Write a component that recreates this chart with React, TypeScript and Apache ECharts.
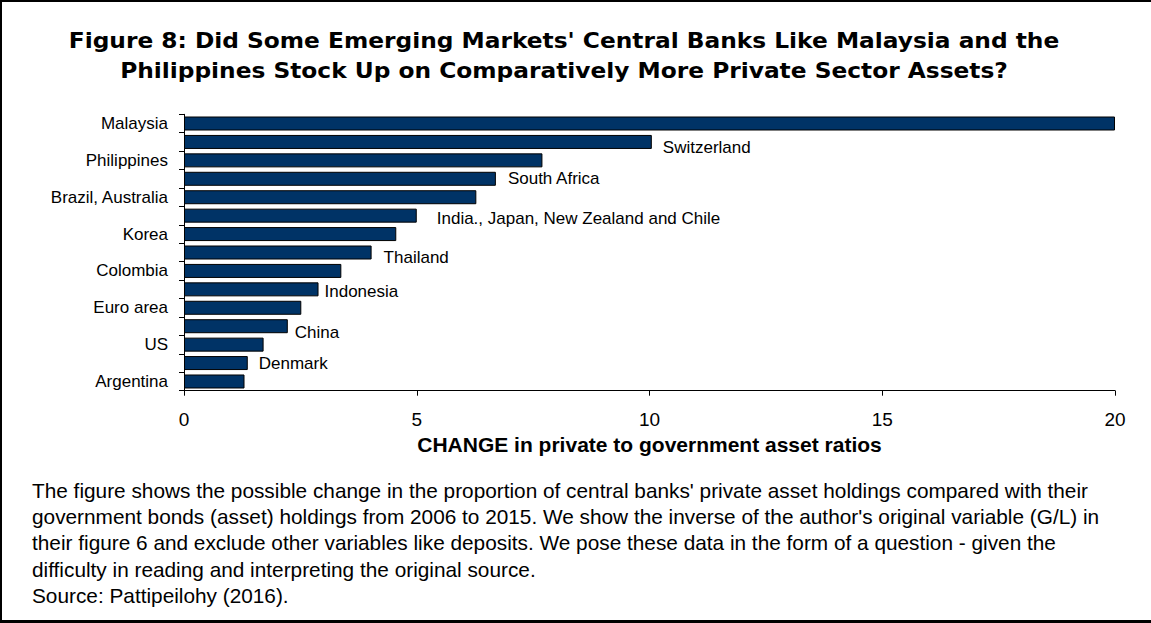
import React, { useEffect, useRef } from "react";
import * as echarts from "echarts";

// ---- data ----
const categories: string[] = [
  "Malaysia",
  "Switzerland",
  "Philippines",
  "South Africa",
  "Brazil, Australia",
  "India., Japan, New Zealand and Chile",
  "Korea",
  "Thailand",
  "Colombia",
  "Indonesia",
  "Euro area",
  "China",
  "US",
  "Denmark",
  "Argentina",
];
const values: number[] = [
  20.0, 10.05, 7.7, 6.7, 6.28, 5.0, 4.56, 4.03, 3.38, 2.89, 2.52, 2.23, 1.71, 1.37, 1.3,
];
const xMin = 0;
const xMax = 20;
const xStep = 5;
const axisTitle = "CHANGE in private to government asset ratios";
const titleLines: string[] = [
  "Figure 8: Did Some Emerging Markets' Central Banks Like Malaysia and the",
  "Philippines Stock Up on Comparatively More Private Sector Assets?",
];
const noteLines: string[] = [
  "The figure shows the possible change in the proportion of central banks' private asset holdings compared with their",
  "government bonds (asset) holdings from 2006 to 2015. We show the inverse of the author's original variable (G/L) in",
  "their figure 6 and exclude other variables like deposits. We pose these data in the form of a question - given the",
  "difficulty in reading and interpreting the original source.",
  "Source: Pattipeilohy (2016).",
];

// ---- layout (not data) ----
const rightLabelOffsets: number[][] = [
  [11, 6],
  [12, 0],
  [20, 3],
  [12, 5],
  [6, 2],
  [7, 6],
  [11, 0],
];
const SANS = '"Liberation Sans", Arial, sans-serif';

export default function App() {
  const ref = useRef<HTMLDivElement>(null);
  useEffect(() => {
    if (!ref.current) return;
    const chart = echarts.init(ref.current, null, { renderer: "svg" });
    let k = 0;
    const data = values.map((v, i) => {
      if (i % 2 === 1) {
        const off = rightLabelOffsets[k++];
        return { value: v, label: { show: true, offset: off } };
      }
      return { value: v, label: { show: false } };
    });

    const graphics: any[] = [
      { type: "rect", shape: { x: 0, y: 0, width: 2, height: 623 }, style: { fill: "#000" } },
      { type: "rect", shape: { x: 0, y: 0, width: 1151, height: 2 }, style: { fill: "#000" } },
      { type: "rect", shape: { x: 0, y: 620, width: 1151, height: 3 }, style: { fill: "#000" } },
    ];
    titleLines.forEach((t, i) => {
      graphics.push({
        type: "text",
        x: 564,
        y: 40.5 + i * 30,
        scaleX: 1.11,
        style: {
          text: t,
          font: 'bold 21px "DejaVu Sans", sans-serif',
          fill: "#000",
          align: "center",
          verticalAlign: "middle",
          textAlign: "center",
          textVerticalAlign: "middle",
        },
      });
    });
    noteLines.forEach((t, i) => {
      graphics.push({
        type: "text",
        x: 32,
        y: 490 + i * 26.4,
        style: {
          text: t,
          font: "20.8px " + SANS,
          fill: "#000",
          align: "left",
          verticalAlign: "middle",
          textAlign: "left",
          textVerticalAlign: "middle",
        },
      });
    });

    chart.setOption({
      animation: false,
      backgroundColor: "#fff",
      grid: { left: 184, right: 36, top: 114.3, bottom: 232.3, containLabel: false },
      xAxis: {
        type: "value",
        min: xMin,
        max: xMax,
        interval: xStep,
        axisLine: { show: true, lineStyle: { color: "#000", width: 1 } },
        axisTick: { show: true, length: 5, lineStyle: { color: "#000" } },
        axisLabel: { color: "#000", fontSize: 19, fontFamily: SANS, margin: 19 },
        splitLine: { show: false },
        name: axisTitle,
        nameLocation: "middle",
        nameGap: 43,
        nameTextStyle: { color: "#000", fontSize: 21, fontWeight: "bold", fontFamily: SANS },
      },
      yAxis: {
        type: "category",
        data: categories,
        inverse: true,
        axisLine: { show: true, lineStyle: { color: "#000", width: 1 } },
        axisTick: { show: true, length: 5, interval: 0, alignWithLabel: false, lineStyle: { color: "#000" } },
        axisLabel: { interval: 1, margin: 16, fontSize: 17, color: "#000", fontFamily: SANS },
        splitLine: { show: false },
      },
      series: [
        {
          type: "bar",
          data,
          barWidth: 14,
          itemStyle: { color: "#003366", borderColor: "#000", borderWidth: 1 },
          label: {
            position: "right",
            distance: 0,
            formatter: "{b}",
            color: "#000",
            fontSize: 17,
            fontFamily: SANS,
          },
        },
      ],
      graphic: graphics,
    });
    return () => chart.dispose();
  }, []);
  return (
    <div
      ref={ref}
      style={{ position: "fixed", left: 0, top: 0, width: 1151, height: 623, background: "#fff" }}
    />
  );
}
